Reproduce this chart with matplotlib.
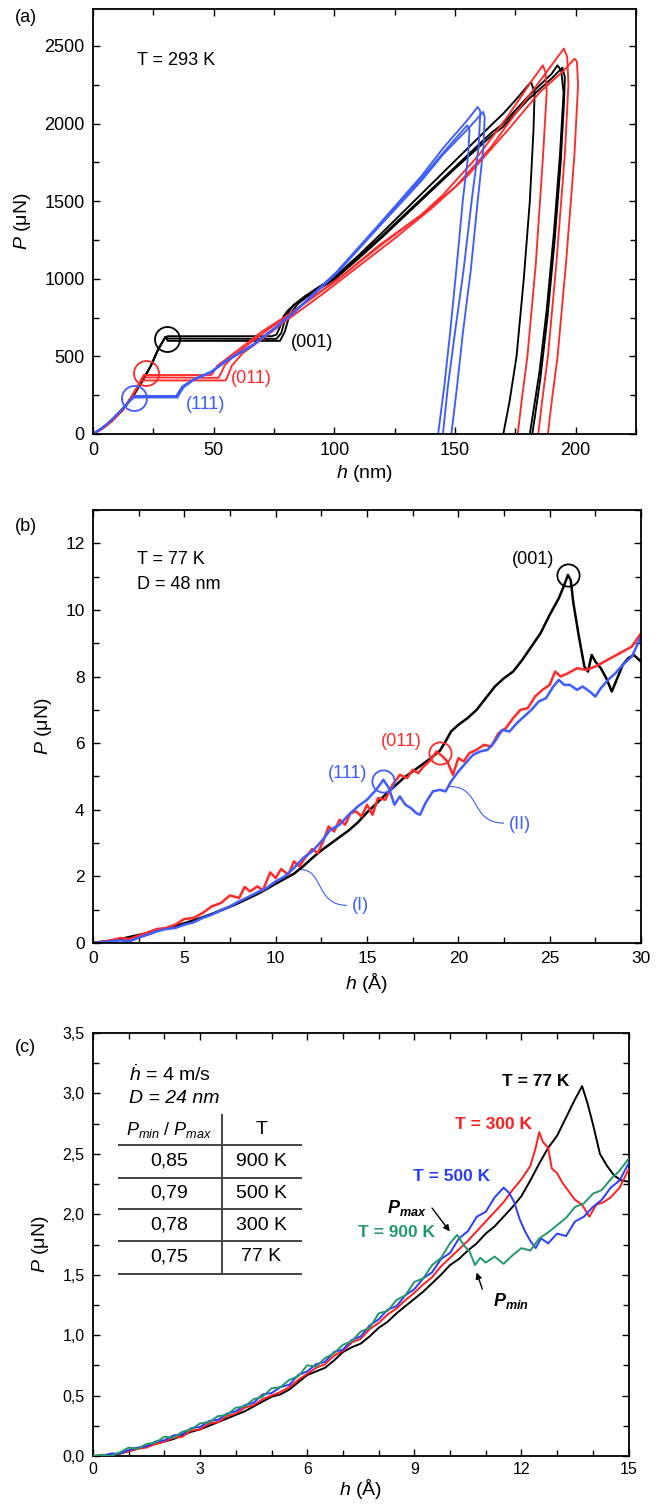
import numpy as np
import matplotlib
matplotlib.use('Agg')
import matplotlib.pyplot as plt
from matplotlib.ticker import MultipleLocator, FuncFormatter
from matplotlib.path import Path
from matplotlib.patches import PathPatch

plt.rcParams['font.family'] = ['Liberation Sans', 'DejaVu Sans']
plt.rcParams['mathtext.fontset'] = 'custom'
plt.rcParams['mathtext.rm'] = 'Liberation Sans'
plt.rcParams['mathtext.it'] = 'Liberation Sans:italic'
plt.rcParams['mathtext.bf'] = 'Liberation Sans:bold'
plt.rcParams['mathtext.bfit'] = 'Liberation Sans:italic:bold'

# ============ 数据 (a) T = 293 K ============
# (001) 黑
A001_H = [
    [0, 4, 8, 12, 16, 20, 24, 27, 30, 31, 74, 76, 77.5, 79, 81, 85, 92, 100, 110, 120, 135, 150, 165, 170,
     175, 181.5, 183, 182.5, 181, 178.5, 175.5, 172.5, 170],
    [0, 4, 8, 12, 16, 20, 24, 27, 30, 31, 76, 78, 80, 83, 88, 95, 100, 110, 120, 135, 150, 165, 170, 180,
     190, 192.5, 194, 195, 193.5, 191, 188, 185, 182, 181],
    [0, 4, 8, 12, 16, 20, 24, 27, 30, 31, 77.5, 79.5, 81.5, 85, 90, 100, 110, 120, 135, 150, 165, 170, 180,
     190, 194.5, 195.5, 195.2, 193.8, 191.3, 188.3, 185.3, 183, 182],
]
A001_P = [
    [0, 40, 90, 150, 230, 330, 440, 545, 625, 630, 630, 640, 690, 760, 800, 850, 930, 1010, 1150, 1300, 1530,
     1760, 1990, 2064, 2150, 2268, 2200, 1950, 1500, 1000, 500, 200, 0],
    [0, 40, 90, 150, 230, 330, 440, 545, 625, 615, 613, 650, 760, 830, 890, 960, 1005, 1140, 1280, 1500, 1720,
     1940, 2000, 2170, 2320, 2375, 2340, 2200, 1800, 1300, 800, 400, 100, 0],
    [0, 40, 90, 150, 230, 330, 440, 545, 625, 600, 600, 660, 770, 840, 900, 995, 1130, 1270, 1490, 1710, 1920,
     1980, 2150, 2290, 2360, 2300, 2150, 1750, 1250, 750, 350, 100, 0],
]
# (011) 红
A011_H = [
    [0, 4, 8, 12, 16, 19, 21, 49, 50, 51.5, 55, 60, 70, 83.6, 101, 118.5, 135.9, 145, 160, 172, 182, 186.4,
     187.5, 188, 186.5, 183.5, 180, 177.5, 176],
    [0, 4, 8, 12, 16, 19, 20.5, 52, 53, 54.5, 58, 65, 75, 90, 105, 120, 136, 150, 165, 172, 185, 195.1,
     196.5, 197, 195.5, 192, 188.5, 186, 184.5],
    [0, 4, 8, 12, 16, 19, 20, 55, 56, 57.5, 62, 70, 80, 95, 110, 125, 140, 155, 172, 185, 195, 199.5,
     200.5, 201, 199.5, 196, 192.5, 190, 188.5],
]
A011_P = [
    [0, 35, 85, 150, 240, 320, 380, 380, 400, 440, 480, 540, 660, 795, 990, 1215, 1410, 1540, 1800, 2050,
     2280, 2375, 2330, 2200, 1800, 1100, 500, 200, 0],
    [0, 35, 85, 150, 240, 320, 365, 362, 390, 440, 500, 585, 700, 870, 1040, 1225, 1410, 1590, 1850, 2000,
     2270, 2483, 2430, 2250, 1800, 1100, 500, 200, 0],
    [0, 35, 85, 150, 240, 320, 345, 345, 380, 440, 520, 610, 730, 900, 1080, 1260, 1450, 1660, 1960, 2200,
     2340, 2418, 2400, 2250, 1800, 1100, 500, 200, 0],
]
# (111) 蓝
A111_H = [
    [0, 4, 8, 12, 15, 17, 34.5, 35.5, 37, 42, 48.8, 55, 66.2, 75, 83.6, 101, 118.5, 135.9, 145, 155,
     156, 155.5, 153.3, 150.5, 148, 145.5, 143],
    [0, 4, 8, 12, 15, 17, 34.5, 35.5, 37, 42, 48.8, 55, 66.2, 75, 83.6, 101, 118.5, 136, 145, 155, 159.4,
     160.5, 159.8, 157, 153.5, 150, 147, 145],
    [0, 4, 8, 12, 15, 17, 35, 36, 37.5, 42, 48.8, 55, 66.2, 75, 83.6, 101, 118.5, 136, 145, 155, 161.7,
     162.3, 161.8, 159.5, 156.5, 153.3, 150.8, 148.5],
]
A111_P = [
    [0, 40, 95, 160, 210, 245, 245, 270, 305, 355, 400, 470, 575, 680, 790, 1042, 1343, 1644, 1810, 1988,
     1960, 1800, 1515, 1050, 656, 300, 0],
    [0, 40, 95, 160, 210, 240, 240, 265, 305, 355, 400, 470, 575, 680, 790, 1045, 1350, 1660, 1840, 2020, 2107,
     2080, 1850, 1515, 1050, 656, 300, 0],
    [0, 40, 95, 160, 210, 235, 235, 262, 300, 350, 395, 465, 570, 675, 785, 1035, 1335, 1630, 1800, 1960, 2075,
     2040, 1850, 1515, 1050, 656, 300, 0],
]
A_POPIN = {'001': (30.5, 610), '011': (21.8, 395), '111': (17.0, 234)}

# ============ 数据 (b) T = 77 K, D = 48 nm ============
B001_H = [0, 0.5, 1, 1.5, 2, 2.5, 3, 3.5, 4, 4.5, 5, 5.5, 6, 6.5, 7, 7.5, 8, 8.5, 9, 9.5, 10, 10.5, 11, 11.5,
          12, 12.5, 13, 13.5, 14, 14.5, 15, 15.5, 16, 16.5, 17, 17.5, 18, 18.5, 19, 19.3, 19.6, 20, 20.5, 21,
          21.5, 22, 22.5, 23, 23.5, 24, 24.5, 25, 25.5, 25.8, 26, 26.15, 26.3, 26.6, 26.9, 27.1, 27.3, 27.5,
          27.8, 28.1, 28.4, 28.7, 29, 29.3, 29.6, 30]
B001_P = [0, 0.04, 0.07, 0.12, 0.18, 0.24, 0.30, 0.37, 0.44, 0.51, 0.59, 0.68, 0.77, 0.87, 0.98, 1.09, 1.21,
          1.34, 1.47, 1.62, 1.78, 1.93, 2.08, 2.30, 2.55, 2.78, 2.98, 3.18, 3.38, 3.62, 3.92, 4.18, 4.45, 4.70,
          4.95, 5.15, 5.35, 5.55, 5.78, 6.05, 6.35, 6.55, 6.75, 7.00, 7.35, 7.70, 7.95, 8.15, 8.50, 8.90, 9.30,
          9.85, 10.35, 10.75, 11.05, 10.90, 10.20, 9.20, 8.30, 8.15, 8.65, 8.45, 8.25, 7.95, 7.55, 7.95, 8.35,
          8.55, 8.65, 8.45]
B011_H = [0, 0.5, 1, 1.5, 2, 2.5, 3, 3.5, 4, 4.5, 5, 5.5, 6, 6.5, 7, 7.5, 8, 8.3, 8.6, 9, 9.3, 9.7, 10, 10.3,
          10.7, 11, 11.3, 11.6, 12, 12.3, 12.6, 12.9, 13.2, 13.5, 13.8, 14.1, 14.4, 14.7, 15, 15.3, 15.6, 16,
          16.4, 16.8, 17.2, 17.5, 17.8, 18.1, 18.5, 18.8, 19.1, 19.4, 19.7, 20, 20.3, 20.6, 21, 21.4, 21.8,
          22.2, 22.6, 23, 23.4, 23.8, 24.2, 24.6, 25, 25.3, 25.6, 26, 26.5, 27, 27.5, 28, 28.5, 29, 29.5, 30]
B011_P = [0, 0.03, 0.08, 0.15, 0.12, 0.22, 0.32, 0.42, 0.45, 0.55, 0.72, 0.75, 0.90, 1.10, 1.20, 1.43, 1.35,
          1.68, 1.55, 1.70, 1.58, 2.12, 1.95, 2.22, 2.05, 2.45, 2.30, 2.55, 2.82, 2.70, 3.05, 3.50, 3.35, 3.70,
          3.55, 3.90, 3.95, 3.80, 4.15, 3.85, 4.35, 4.30, 4.75, 5.05, 4.95, 5.20, 5.10, 5.30, 5.50, 5.75, 5.62,
          5.45, 5.05, 5.55, 5.45, 5.70, 5.80, 5.95, 5.90, 6.30, 6.45, 6.75, 7.00, 7.05, 7.40, 7.60, 7.75, 8.15,
          8.00, 8.10, 8.25, 8.20, 8.30, 8.45, 8.60, 8.75, 8.90, 9.30]
B111_H = [0, 0.5, 1, 1.5, 2, 2.5, 3, 3.5, 4, 4.5, 5, 5.5, 6, 6.5, 7, 7.5, 8, 8.5, 9, 9.5, 10, 10.5, 11, 11.5,
          12, 12.5, 13, 13.5, 14, 14.5, 15, 15.5, 15.9, 16.2, 16.5, 16.8, 17.1, 17.4, 17.7, 17.9, 18.2, 18.6,
          19, 19.3, 19.6, 20, 20.4, 20.8, 21.2, 21.6, 22, 22.4, 22.8, 23.2, 23.6, 24, 24.4, 24.8, 25.2, 25.5,
          25.8, 26.1, 26.5, 26.8, 27.2, 27.5, 27.8, 28.2, 28.6, 29, 29.5, 30]
B111_P = [0, 0.02, 0.05, 0.08, 0.05, 0.16, 0.25, 0.35, 0.42, 0.45, 0.55, 0.62, 0.75, 0.85, 0.98, 1.10, 1.25,
          1.38, 1.52, 1.65, 1.85, 2.00, 2.25, 2.55, 2.75, 3.05, 3.40, 3.55, 3.85, 4.10, 4.30, 4.60, 4.90, 4.65,
          4.15, 4.40, 4.15, 4.05, 3.90, 3.85, 4.20, 4.55, 4.60, 4.55, 4.85, 5.15, 5.40, 5.65, 5.75, 5.80, 6.05,
          6.40, 6.35, 6.60, 6.80, 7.00, 7.25, 7.35, 7.70, 7.90, 7.75, 7.75, 7.60, 7.70, 7.55, 7.40, 7.65, 7.90,
          8.10, 8.35, 8.60, 9.20]
B_POPIN = {'001': (26.0, 11.05), '011': (19.0, 5.7), '111': (15.9, 4.85)}

# ============ 数据 (c) D = 24 nm ============
C_H = [0, 0.25, 0.5, 0.75, 1, 1.25, 1.5, 1.75, 2, 2.25, 2.5, 2.75, 3, 3.25, 3.5, 3.75, 4, 4.25, 4.5, 4.75,
       5, 5.25, 5.5, 5.75, 6, 6.25, 6.5, 6.75, 7, 7.25, 7.5, 7.75, 8, 8.25, 8.5, 8.75, 9, 9.25, 9.5, 9.75]
C77_P_LOW = [0, 0, 0.01, 0.02, 0.04, 0.06, 0.08, 0.10, 0.12, 0.14, 0.17, 0.20, 0.22, 0.25, 0.28, 0.31, 0.34,
             0.37, 0.41, 0.45, 0.49, 0.51, 0.55, 0.61, 0.67, 0.70, 0.73, 0.79, 0.86, 0.90, 0.93, 0.99, 1.06,
             1.11, 1.18, 1.24, 1.30, 1.36, 1.43, 1.50]
C300_P_LOW = [0, 0.01, 0.01, 0.02, 0.04, 0.06, 0.07, 0.10, 0.12, 0.15, 0.16, 0.21, 0.22, 0.27, 0.28, 0.33, 0.35,
              0.40, 0.42, 0.47, 0.50, 0.53, 0.57, 0.63, 0.68, 0.73, 0.76, 0.83, 0.87, 0.94, 0.97, 1.05, 1.10,
              1.17, 1.22, 1.29, 1.35, 1.42, 1.48, 1.57]
C500_P_LOW = [0, 0, 0.02, 0.02, 0.05, 0.07, 0.08, 0.12, 0.13, 0.17, 0.18, 0.23, 0.24, 0.29, 0.30, 0.35, 0.37,
              0.42, 0.44, 0.51, 0.52, 0.57, 0.59, 0.67, 0.70, 0.76, 0.78, 0.86, 0.88, 0.96, 0.99, 1.08, 1.13,
              1.21, 1.24, 1.33, 1.38, 1.47, 1.52, 1.63]
C900_P_LOW = [0, 0.01, 0, 0.03, 0.07, 0.06, 0.10, 0.11, 0.16, 0.15, 0.20, 0.22, 0.27, 0.28, 0.33, 0.34, 0.40,
              0.41, 0.47, 0.49, 0.56, 0.57, 0.63, 0.66, 0.75, 0.74, 0.81, 0.85, 0.92, 0.95, 1.03, 1.06, 1.18,
              1.20, 1.29, 1.33, 1.44, 1.47, 1.58, 1.64]
C77_H_HIGH = [10, 10.25, 10.5, 10.75, 11, 11.25, 11.5, 11.75, 12, 12.25, 12.5, 12.75, 13, 13.25, 13.5, 13.7,
              13.85, 14, 14.2, 14.4, 14.6, 14.8, 15]
C77_P_HIGH = [1.58, 1.63, 1.70, 1.76, 1.84, 1.90, 1.98, 2.06, 2.15, 2.28, 2.42, 2.55, 2.65, 2.80, 2.95, 3.06,
              2.92, 2.75, 2.50, 2.40, 2.32, 2.28, 2.27]
C300_H_HIGH = [10, 10.25, 10.5, 10.75, 11, 11.25, 11.5, 11.75, 12, 12.25, 12.4, 12.5, 12.6, 12.75, 12.85, 13,
               13.15, 13.3, 13.5, 13.7, 13.9, 14.1, 14.3, 14.5, 14.75, 15]
C300_P_HIGH = [1.64, 1.71, 1.78, 1.86, 1.94, 2.02, 2.10, 2.20, 2.29, 2.40, 2.55, 2.68, 2.60, 2.55, 2.38, 2.34,
               2.26, 2.20, 2.12, 2.08, 1.98, 2.08, 2.10, 2.14, 2.22, 2.37]
C500_H_HIGH = [10, 10.25, 10.5, 10.75, 11, 11.25, 11.5, 11.65, 11.8, 11.95, 12.1, 12.25, 12.4, 12.55, 12.75, 13,
               13.25, 13.5, 13.75, 14, 14.25, 14.5, 14.75, 15]
C500_P_HIGH = [1.68, 1.80, 1.86, 1.98, 2.02, 2.14, 2.22, 2.18, 2.10, 1.96, 1.86, 1.78, 1.72, 1.80, 1.76, 1.84,
               1.82, 1.94, 1.98, 2.06, 2.12, 2.22, 2.28, 2.42]
C900_H_HIGH = [10, 10.2, 10.4, 10.55, 10.7, 10.85, 11, 11.25, 11.5, 11.75, 12, 12.25, 12.5, 12.75, 13, 13.25,
               13.5, 13.75, 14, 14.25, 14.5, 14.75, 15]
C900_P_HIGH = [1.76, 1.83, 1.74, 1.69, 1.58, 1.64, 1.60, 1.65, 1.59, 1.66, 1.72, 1.70, 1.80, 1.85, 1.91, 1.97,
               2.06, 2.09, 2.17, 2.20, 2.29, 2.36, 2.46]

TABLE_RATIO = ['0,85', '0,79', '0,78', '0,75']
TABLE_T = ['900 K', '500 K', '300 K', '77 K']

# ============ 颜色 ============
BLACK = '#000000'
RED_A = '#ff2a2a'
BLUE_A = '#3f5cff'
RED_C = '#ff1e1e'
BLUE_C = '#2a3cff'
GREEN_C = '#23996b'

W, H = 662, 1505
fig = plt.figure(figsize=(W / 100, H / 100), dpi=100)


def rect(x0, x1, y0, y1):
    return [x0 / W, 1 - y1 / H, (x1 - x0) / W, (y1 - y0) / H]


def style_axes(ax, size):
    ax.tick_params(which='both', direction='in', top=True, right=True, width=1.0, labelsize=size)
    ax.tick_params(which='major', length=5, pad=6)
    ax.tick_params(which='minor', length=4)
    for s in ax.spines.values():
        s.set_linewidth(1.3)


# ============ (a) ============
ax = fig.add_axes(rect(93, 636, 8.7, 434))
for hs, ps in zip(A001_H, A001_P):
    ax.plot(hs, ps, color=BLACK, lw=1.35)
for hs, ps in zip(A011_H, A011_P):
    ax.plot(hs, ps, color=RED_A, lw=1.35)
for hs, ps in zip(A111_H, A111_P):
    ax.plot(hs, ps, color=BLUE_A, lw=1.35)
for key, col in [('001', BLACK), ('011', RED_A), ('111', BLUE_A)]:
    hx, py = A_POPIN[key]
    ax.plot(hx, py, 'o', ms=18, mfc='none', mec=col, mew=1.3)
ax.text(82, 591, '(001)', color=BLACK, fontsize=13, va='center')
ax.text(57, 355, '(011)', color=RED_A, fontsize=13, va='center')
ax.text(38.3, 193, '(111)', color=BLUE_A, fontsize=13, va='center')
ax.text(18.3, 2408, 'T = 293 K', fontsize=13, va='center')
ax.set_xlim(0, 225)
ax.set_ylim(0, 2740)
ax.xaxis.set_major_locator(MultipleLocator(50))
ax.xaxis.set_minor_locator(MultipleLocator(25))
ax.yaxis.set_major_locator(MultipleLocator(500))
ax.yaxis.set_minor_locator(MultipleLocator(250))
style_axes(ax, 13)
ax.set_xlabel(r'$h$ (nm)', fontsize=14, labelpad=3)
ax.set_ylabel(r'$P$ (μN)', fontsize=14, labelpad=8)
fig.text(15 / W, 1 - 17 / H, '(a)', fontsize=13, va='center')

# ============ (b) ============
ax = fig.add_axes(rect(93, 641, 510, 943))
ax.plot(B001_H, B001_P, color=BLACK, lw=1.8)
ax.plot(B011_H, B011_P, color=RED_A, lw=1.8)
ax.plot(B111_H, B111_P, color=BLUE_A, lw=1.8)
for key, col in [('001', BLACK), ('011', RED_A), ('111', BLUE_A)]:
    hx, py = B_POPIN[key]
    ax.plot(hx, py, 'o', ms=16, mfc='none', mec=col, mew=1.3)
ax.text(24.1, 11.5, '(001)', color=BLACK, fontsize=13, ha='center', va='center')
ax.text(16.9, 6.04, '(011)', color=RED_A, fontsize=13, ha='center', va='center')
ax.text(13.96, 5.09, '(111)', color=BLUE_A, fontsize=13, ha='center', va='center')
ax.text(14.65, 1.13, '(I)', color=BLUE_A, fontsize=13, ha='center', va='center')
ax.text(23.36, 3.57, '(II)', color=BLUE_A, fontsize=13, ha='center', va='center')
for pts in [[(11.4, 2.2), (12.6, 2.2), (12.2, 1.13), (13.9, 1.13)],
            [(19.5, 4.7), (21.3, 4.7), (20.6, 3.6), (22.5, 3.6)]]:
    path = Path(pts, [Path.MOVETO, Path.CURVE4, Path.CURVE4, Path.CURVE4])
    ax.add_patch(PathPatch(path, facecolor='none', edgecolor=BLUE_A, lw=0.8))
ax.text(2.42, 11.5, 'T = 77 K', fontsize=13, va='center')
ax.text(2.42, 10.75, 'D = 48 nm', fontsize=13, va='center')
ax.set_xlim(0, 30)
ax.set_ylim(0, 13)
ax.xaxis.set_major_locator(MultipleLocator(5))
ax.xaxis.set_minor_locator(MultipleLocator(2.5))
ax.yaxis.set_major_locator(MultipleLocator(2))
ax.yaxis.set_minor_locator(MultipleLocator(1))
style_axes(ax, 12.5)
ax.set_xlabel(r'$h$ (Å)', fontsize=14, labelpad=3)
ax.set_ylabel(r'$P$ (μN)', fontsize=14, labelpad=8)
fig.text(15 / W, 1 - 527 / H, '(b)', fontsize=13, va='center')

# ============ (c) ============
ax = fig.add_axes(rect(93, 628.5, 1033, 1456))
ax.plot(C_H + C77_H_HIGH, C77_P_LOW + C77_P_HIGH, color=BLACK, lw=1.4, zorder=3)
ax.plot(C_H + C300_H_HIGH, C300_P_LOW + C300_P_HIGH, color=RED_C, lw=1.4, zorder=4)
ax.plot(C_H + C500_H_HIGH, C500_P_LOW + C500_P_HIGH, color=BLUE_C, lw=1.4, zorder=5)
ax.plot(C_H + C900_H_HIGH, C900_P_LOW + C900_P_HIGH, color=GREEN_C, lw=1.4, zorder=6)

ax.text(1.0, 3.155, r'$\dot{h}$ = 4 m/s', fontsize=14, va='center')
ax.text(1.0, 2.96, 'D = 24 nm', fontsize=14, va='center', style='italic')
# 表格
ax.hlines([2.57, 2.30, 2.04, 1.78, 1.51], 0.71, 5.85, color='#444444', lw=1.4)
ax.vlines(3.6, 1.51, 2.83, color='#444444', lw=1.4)
ax.text(2.13, 2.70, r'$P_{min}$ / $P_{max}$', fontsize=13, ha='center', va='center')
ax.text(4.72, 2.70, 'T', fontsize=14, ha='center', va='center')
for i, (r, t) in enumerate(zip(TABLE_RATIO, TABLE_T)):
    yy = [2.44, 2.175, 1.91, 1.65][i]
    ax.text(2.13, yy, r, fontsize=14, ha='center', va='center')
    ax.text(4.72, yy, t, fontsize=14, ha='center', va='center')

ax.text(11.46, 3.10, 'T = 77 K', color=BLACK, fontsize=12.5, fontweight='bold', va='center')
ax.text(10.13, 2.74, 'T = 300 K', color=RED_C, fontsize=12.5, fontweight='bold', va='center')
ax.text(8.95, 2.31, 'T = 500 K', color=BLUE_C, fontsize=12.5, fontweight='bold', va='center')
ax.text(7.42, 1.85, 'T = 900 K', color=GREEN_C, fontsize=12.5, fontweight='bold', va='center')
ax.text(8.24, 2.05, r'$\mathbfit{P}_{\mathbfit{max}}$', fontsize=13, va='center')
ax.text(11.2, 1.28, r'$\mathbfit{P}_{\mathbfit{min}}$', fontsize=13, va='center')
ax.annotate('', xy=(10.04, 1.84), xytext=(9.45, 2.07),
            arrowprops=dict(arrowstyle='-|>', color='black', lw=1.0, mutation_scale=9), zorder=8)
ax.annotate('', xy=(10.72, 1.54), xytext=(10.93, 1.36),
            arrowprops=dict(arrowstyle='-|>', color='black', lw=1.0, mutation_scale=9), zorder=8)

ax.set_xlim(0, 15)
ax.set_ylim(0, 3.5)
ax.xaxis.set_major_locator(MultipleLocator(3))
ax.xaxis.set_minor_locator(MultipleLocator(1))
ax.yaxis.set_major_locator(MultipleLocator(0.5))
ax.yaxis.set_minor_locator(MultipleLocator(0.25))
ax.yaxis.set_major_formatter(FuncFormatter(lambda v, p: f'{v:.1f}'.replace('.', ',')))
style_axes(ax, 11.5)
ax.tick_params(axis='x', which='major', pad=4)
ax.set_xlabel(r'$h$ (Å)', fontsize=14, labelpad=0)
ax.set_ylabel(r'$P$ (μN)', fontsize=14, labelpad=8)
fig.text(15 / W, 1 - 1047 / H, '(c)', fontsize=13, va='center')

fig.savefig('out.png', dpi=100, facecolor='white')
